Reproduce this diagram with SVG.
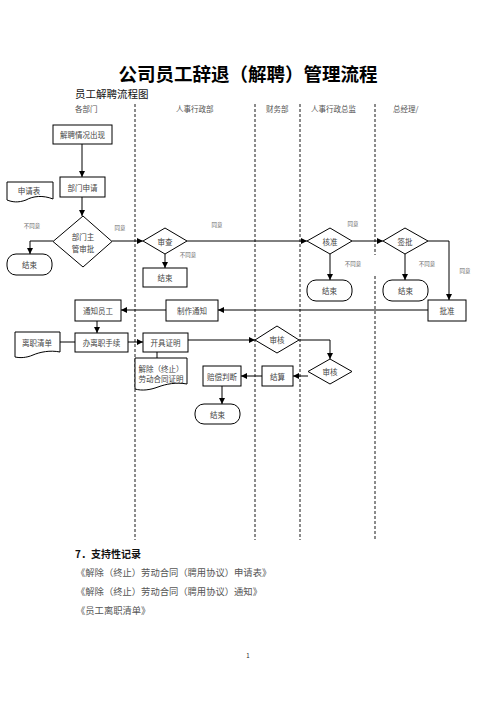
<svg xmlns="http://www.w3.org/2000/svg" width="496" height="702" viewBox="0 0 496 702">
<style>
text{font-family:"Noto Sans CJK SC","Noto Sans",sans-serif;fill:#222}
.n{font-size:7.5px;text-anchor:middle;dominant-baseline:central;fill:#444}
.lb{font-size:5.5px;text-anchor:middle;fill:#666}
.hd{font-size:7.5px;fill:#555}
.box{fill:#fff;stroke:#000;stroke-width:1}
.ln{fill:none;stroke:#000;stroke-width:1}
.lane{stroke:#666;stroke-width:1.5;stroke-dasharray:3 2}
.rec{font-size:9.3px;fill:#555}
</style>
<defs>
<marker id="ar" viewBox="0 0 6 6" refX="6" refY="3" markerWidth="6" markerHeight="6" orient="auto" markerUnits="userSpaceOnUse">
<path d="M0,0 L6,3 L0,6 Z" fill="#000"/>
</marker>
</defs>
<rect width="496" height="702" fill="#fff"/>
<text x="248" y="81" style="font-size:18.5px;font-weight:bold;text-anchor:middle;fill:#000">公司员工辞退（解聘）管理流程</text>
<text x="75" y="98" style="font-size:10.5px;fill:#111">员工解聘流程图</text>
<g id="lanes">
<text class="hd" x="75" y="112">各部门</text>
<text class="hd" x="176" y="112">人事行政部</text>
<text class="hd" x="266" y="112">财务部</text>
<text class="hd" x="311" y="112">人事行政总监</text>
<text class="hd" x="393" y="112">总经理/</text>
<line class="lane" x1="135" y1="104" x2="135" y2="540"/>
<line class="lane" x1="255" y1="104" x2="255" y2="540"/>
<line class="lane" x1="300" y1="104" x2="300" y2="540"/>
<line class="lane" x1="375" y1="104" x2="375" y2="255"/>
<line class="lane" x1="375" y1="276" x2="375" y2="540"/>
</g>
<g id="connectors">
<path class="ln" d="M82,144 V177" marker-end="url(#ar)"/>
<path class="ln" d="M82,197 V216" marker-end="url(#ar)"/>
<path class="ln" d="M53,241 H30 V254" marker-end="url(#ar)"/>
<path class="ln" d="M112,241 H143" marker-end="url(#ar)"/>
<path class="ln" d="M165,254 V268" marker-end="url(#ar)"/>
<path class="ln" d="M187,241 H307" marker-end="url(#ar)"/>
<path class="ln" d="M330,254 V280" marker-end="url(#ar)"/>
<path class="ln" d="M352,241 H383" marker-end="url(#ar)"/>
<path class="ln" d="M405,254 V280" marker-end="url(#ar)"/>
<path class="ln" d="M428,241 H449 V300" marker-end="url(#ar)"/>
<path class="ln" d="M428,310 H218" marker-end="url(#ar)"/>
<path class="ln" d="M166,310 H121" marker-end="url(#ar)"/>
<path class="ln" d="M97,321 V333" marker-end="url(#ar)"/>
<path class="ln" d="M60,342 H75"/>
<path class="ln" d="M128,342 H143" marker-end="url(#ar)"/>
<path class="ln" d="M157,352 V358"/>
<path class="ln" d="M188,340 H255" marker-end="url(#ar)"/>
<path class="ln" d="M299,340 H330 V359" marker-end="url(#ar)"/>
<path class="ln" d="M308,376 H293" marker-end="url(#ar)"/>
<path class="ln" d="M262,376 H241" marker-end="url(#ar)"/>
<path class="ln" d="M222,386 V404" marker-end="url(#ar)"/>
<text class="lb" x="32" y="228">不同意</text>
<text class="lb" x="120" y="230">同意</text>
<text class="lb" x="188" y="257">不同意</text>
<text class="lb" x="217" y="227">同意</text>
<text class="lb" x="353" y="226">同意</text>
<text class="lb" x="353" y="266">不同意</text>
<text class="lb" x="427" y="266">不同意</text>
<text class="lb" x="465" y="273">同意</text>
</g>
<g id="n1"><rect class="box" x="53" y="125" width="59" height="19"/><text class="n" x="82.5" y="134.5">解聘情况出现</text></g>
<g id="n2"><rect class="box" x="60" y="177" width="45" height="20"/><text class="n" x="82.5" y="187">部门申请</text></g>
<g id="n3"><path class="box" d="M7,182 H53 V199 C43,195 33,196 26,200 C18,203 12,202 7,200 Z"/><text class="n" x="29" y="190">申请表</text></g>
<g id="n4"><path class="box" d="M83,216 L112,241.5 L83,267 L53,241.5 Z"/><text class="n" x="83" y="236">部门主</text><text class="n" x="83" y="248">管审批</text></g>
<g id="n5"><rect class="box" x="7" y="254" width="45" height="21" rx="9"/><text class="n" x="29.5" y="264.5">结束</text></g>
<g id="n6"><path class="box" d="M165,228 L187,241 L165,254 L143,241 Z"/><text class="n" x="165" y="241">审查</text></g>
<g id="n7"><rect class="box" x="143" y="268" width="44" height="19"/><text class="n" x="165" y="277.5">结束</text></g>
<g id="n8"><path class="box" d="M330,228 L352,241 L330,254 L307,241 Z"/><text class="n" x="330" y="241">核准</text></g>
<g id="n9"><rect class="box" x="307" y="280" width="45" height="21" rx="9"/><text class="n" x="329.5" y="290.5">结束</text></g>
<g id="n10"><path class="box" d="M405,228 L428,241 L405,254 L383,241 Z"/><text class="n" x="405" y="241">签批</text></g>
<g id="n11"><rect class="box" x="383" y="280" width="45" height="21" rx="9"/><text class="n" x="405.5" y="290.5">结束</text></g>
<g id="n12"><rect class="box" x="428" y="300" width="38" height="21"/><text class="n" x="447" y="310.5">批准</text></g>
<g id="n13"><rect class="box" x="166" y="300" width="52" height="21"/><text class="n" x="192" y="310.5">制作通知</text></g>
<g id="n14"><rect class="box" x="75" y="300" width="46" height="21"/><text class="n" x="98" y="310.5">通知员工</text></g>
<g id="n15"><rect class="box" x="75" y="333" width="53" height="19"/><text class="n" x="101.5" y="342.5">办离职手续</text></g>
<g id="n16"><path class="box" d="M15,332 H60 V352 C50,350 40,352 33,355 C26,358 20,358 15,357 Z"/><text class="n" x="37" y="342">离职清单</text></g>
<g id="n17"><rect class="box" x="143" y="333" width="45" height="19"/><text class="n" x="165.5" y="342.5">开具证明</text></g>
<g id="n18"><path class="box" d="M135,358 H187 V384 C176,382 166,384 158,387 C150,390 142,391 135,389 Z"/><text class="n" x="161" y="368">解除（终止）</text><text class="n" x="161" y="378">劳动合同证明</text></g>
<g id="n19"><path class="box" d="M277,326 L299,340 L277,353 L255,340 Z"/><text class="n" x="277" y="339.5">审核</text></g>
<g id="n20"><path class="box" d="M330,359 L352,371.5 L330,384 L308,371.5 Z"/><text class="n" x="330" y="371.5">审核</text></g>
<g id="n21"><rect class="box" x="262" y="366" width="31" height="20"/><text class="n" x="277.5" y="376">结算</text></g>
<g id="n22"><rect class="box" x="203" y="366" width="38" height="20"/><text class="n" x="222" y="376">赔偿判断</text></g>
<g id="n23"><rect class="box" x="195" y="404" width="45" height="20" rx="9"/><text class="n" x="217.5" y="414">结束</text></g>
<text x="75" y="558" style="font-size:10px;font-weight:bold;fill:#111">7．支持性记录</text>
<text class="rec" x="76" y="576">《解除（终止）劳动合同（聘用协议）申请表》</text>
<text class="rec" x="76" y="595">《解除（终止）劳动合同（聘用协议）通知》</text>
<text class="rec" x="76" y="614">《员工离职清单》</text>
<text x="248" y="658" style="font-size:6px;text-anchor:middle;fill:#222">1</text>
</svg>
